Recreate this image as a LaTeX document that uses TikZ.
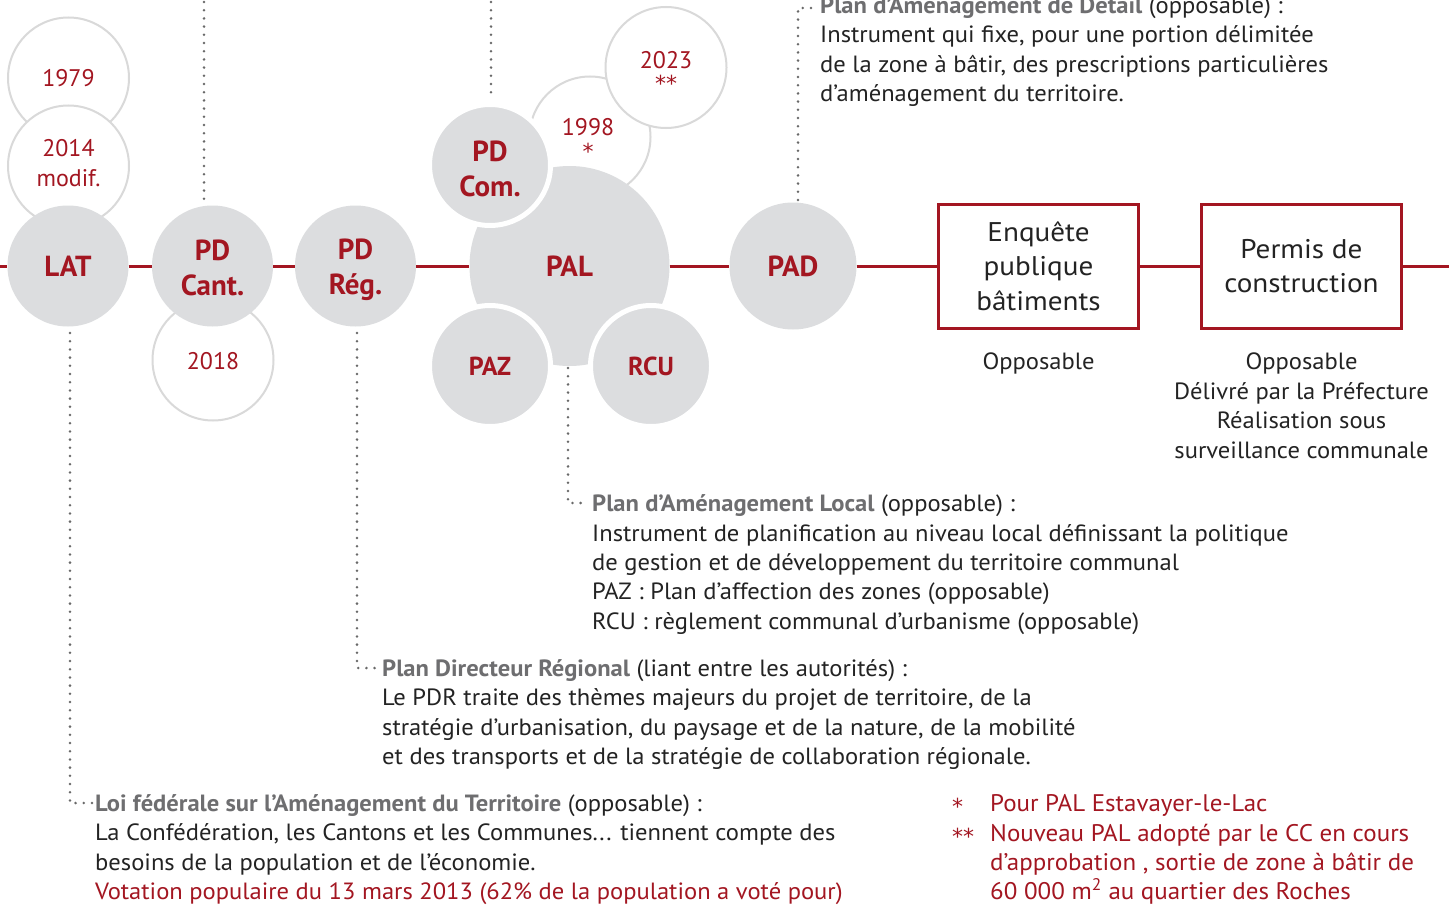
\documentclass[tikz,border=0pt]{standalone}
\usepackage{fontspec}
\setmainfont{PT Sans}
\newfontfamily\bodyfont[FakeStretch=1.045]{PT Sans}
\newfontfamily\redfont[FakeStretch=1.04]{PT Sans}
\newfontfamily\boxfont[FakeStretch=1.08]{PT Sans}
\newfontfamily\starfont{DejaVu Sans}
\definecolor{myred}{RGB}{163,22,33}
\definecolor{cgray}{RGB}{220,221,223}
\definecolor{lgray}{RGB}{217,217,217}
\definecolor{tgray}{RGB}{110,110,112}
\definecolor{body}{RGB}{35,35,35}
\definecolor{dotc}{RGB}{105,105,105}
\tikzset{
  bigc/.style={circle, fill=cgray, inner sep=0pt, minimum size=121pt, text=myred, align=center,
    font=\bfseries\fontsize{29}{35}\selectfont},
  ringc/.style={bigc, draw=white, line width=5pt, minimum size=121pt},
  lbl/.style={inner sep=0pt, text=myred, align=center, font=\bfseries\fontsize{29}{35}\selectfont},
  yearc/.style={circle, draw=lgray, line width=2pt, fill=white, inner sep=0pt, minimum size=121pt},
  yeart/.style={anchor=base, inner sep=0pt, text=myred, font=\fontsize{24}{27}\selectfont},
  start/.style={inner sep=0pt, text=myred, font=\starfont\fontsize{22}{22}\selectfont},
  boxn/.style={draw=myred, line width=3pt, fill=white, minimum width=200pt, minimum height=124pt,
    inner sep=0pt, align=center, text=body, font=\boxfont\fontsize{27}{34.5}\selectfont},
  redline/.style={draw=myred, line width=3pt},
  dotl/.style={draw=dotc, line width=2.8pt, line cap=round, dash pattern=on 0pt off 8.2pt},
  txt/.style={anchor=base west, inner sep=0pt, text=body, font=\bodyfont\fontsize{23.5}{29}\selectfont},
  ctxt/.style={anchor=base, inner sep=0pt, text=body, font=\bodyfont\fontsize{23.5}{29}\selectfont},
  rtxt/.style={anchor=base west, inner sep=0pt, text=myred, font=\redfont\fontsize{24}{29}\selectfont},
}
\newcommand{\ttl}[1]{\textcolor{tgray}{\bfseries #1}}
\newcommand{\st}[1]{\raisebox{-3pt}{\starfont\fontsize{22}{22}\selectfont #1}}
\begin{document}
\begin{tikzpicture}[x=1pt,y=-1pt]
\useasboundingbox[fill=white] (0,0) rectangle (1449,907);

% year circles (behind)
\node[yearc] (y1979) at (68.5,78) {};
\node[yeart] (t1979) at (68.5,86.5) {1979};
\node[yearc] (y2014) at (68.5,166) {};
\node[yeart] (t2014) at (68.5,156.5) {2014};
\node[yeart] (t2014b) at (68.5,186) {modif.};
\node[yearc] (y2018) at (213,360) {};
\node[yeart] (t2018) at (213,369.5) {2018};
\node[yearc] (y1998) at (590,137) {};
\node[yeart] (t1998) at (588,135.5) {1998};
\node[start] (s1998) at (588,151) {*};
\node[yearc] (y2023) at (666,67.5) {};
\node[yeart] (t2023) at (666,68.5) {2023};
\node[start] (s2023) at (666,83) {**};

% main circles
\node[bigc] (lat) at (68,266) {LAT};
\node[bigc] (pdc) at (212.5,266) {};
\node[lbl] (pdct) at (212.5,268) {PD\\Cant.};
\node[bigc] (pdr) at (355.5,266) {};
\node[lbl] (pdrt) at (355.5,270) {PD\\Rég.};
\node[bigc, minimum size=200pt] (pal) at (569.5,266) {PAL};
\node[ringc] (pdcom) at (490,165) {};
\node[lbl] (pdcomt) at (490,169) {PD\\Com.};
\node[ringc, font=\bfseries\fontsize{26}{30}\selectfont] (paz) at (490,366) {PAZ};
\node[ringc, font=\bfseries\fontsize{26}{30}\selectfont] (rcu) at (651,366) {RCU};
\node[bigc, minimum size=127pt] (pad) at (793,266) {PAD};

% boxes
\node[boxn] (enq) at (1038.5,266) {Enquête\\publique\\bâtiments};
\node[boxn] (perm) at (1301.5,266) {Permis de\\construction};

% main line
\coordinate (lstart) at (0,266);
\coordinate (lend) at (1449,266);
\draw[redline] (lstart) -- (lat);
\draw[redline] (lat) -- (pdc);
\draw[redline] (pdc) -- (pdr);
\draw[redline] (pdr) -- (pal);
\draw[redline] (pal) -- (pad);
\draw[redline] (pad) -- (enq);
\draw[redline] (enq) -- (perm);
\draw[redline] (perm) -- (lend);

% dotted leaders
\coordinate (dc1) at (204,2); \coordinate (dc2) at (204,201);
\draw[dotl] (dc1) -- (dc2);
\coordinate (dm1) at (491,2); \coordinate (dm2) at (491,100);
\draw[dotl] (dm1) -- (dm2);
\coordinate (dpad1) at (798,200); \coordinate (dpad2) at (816,8);
\draw[dotl] (dpad1) |- (dpad2);
\coordinate (dpal1) at (568,368); \coordinate (dpal2) at (588,503);
\draw[dotl] (dpal1) |- (dpal2);
\coordinate (dpdr1) at (357,333); \coordinate (dpdr2) at (378,668);
\draw[dotl] (dpdr1) |- (dpdr2);
\coordinate (dlat1) at (70,333); \coordinate (dlat2) at (92,803);
\draw[dotl] (dlat1) |- (dlat2);

% PAD text
\node[txt] (pad1) at (820,13.5) {\ttl{Plan d’Aménagement de Détail} (opposable) :};
\node[txt] (pad2) at (820,43) {Instrument qui fixe, pour une portion délimitée};
\node[txt] (pad3) at (820,72.5) {de la zone à bâtir, des prescriptions particulières};
\node[txt] (pad4) at (820,102) {d’aménagement du territoire.};

% box captions
\node[ctxt] (op1) at (1038.5,369) {Opposable};
\node[ctxt] (op2) at (1301.5,369) {Opposable};
\node[ctxt] (op3) at (1301.5,399) {Délivré par la Préfecture};
\node[ctxt] (op4) at (1301.5,428.5) {Réalisation sous};
\node[ctxt] (op5) at (1301.5,458) {surveillance communale};

% PAL text
\node[txt] (pal1) at (592,511) {\ttl{Plan d’Aménagement Local} (opposable) :};
\node[txt] (pal2) at (592,541) {Instrument de planification au niveau local définissant la politique};
\node[txt] (pal3) at (592,570) {de gestion et de développement du territoire communal};
\node[txt] (pal4) at (592,599.5) {PAZ : Plan d’affection des zones (opposable)};
\node[txt] (pal5) at (592,629) {RCU : règlement communal d’urbanisme (opposable)};

% PDR text
\node[txt] (pdr1) at (382,676) {\ttl{Plan Directeur Régional} (liant entre les autorités) :};
\node[txt] (pdr2) at (382,705.5) {Le PDR traite des thèmes majeurs du projet de territoire, de la};
\node[txt] (pdr3) at (382,735) {stratégie d’urbanisation, du paysage et de la nature, de la mobilité};
\node[txt] (pdr4) at (382,764.5) {et des transports et de la stratégie de collaboration régionale.};

% LAT text
\node[txt] (lat1) at (95,811) {\ttl{Loi fédérale sur l’Aménagement du Territoire} (opposable) :};
\node[txt] (lat2) at (95,840.5) {La Confédération, les Cantons et les Communes... tiennent compte des};
\node[txt] (lat3) at (95,870) {besoins de la population et de l’économie.};
\node[txt, text=myred] (lat4) at (95,899.5) {Votation populaire du 13 mars 2013 (62\% de la population a voté pour)};

% footnotes
\node[rtxt] (fs1) at (952,811) {\st{*}};
\node[rtxt] (fn1) at (990,811) {Pour PAL Estavayer-le-Lac};
\node[rtxt] (fs2) at (952,841) {\st{**}};
\node[rtxt] (fn2) at (990,841) {Nouveau PAL adopté par le CC en cours};
\node[rtxt] (fn3) at (990,870) {d’approbation , sortie de zone à bâtir de};
\node[rtxt] (fn4) at (990,899.5) {60 000 m\textsuperscript{2} au quartier des Roches};
\end{tikzpicture}
\end{document}
